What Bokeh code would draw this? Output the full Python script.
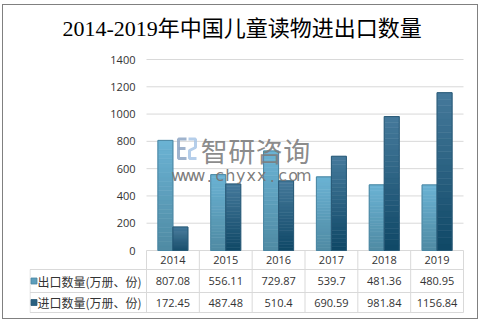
import numpy as np
from bokeh.plotting import figure
from bokeh.layouts import column
from bokeh.models import Range1d, FixedTicker, LinearAxis
from bokeh.core.properties import value
from bokeh.embed import file_html
from bokeh.resources import INLINE

# ---------------- data ----------------
years = ["2014", "2015", "2016", "2017", "2018", "2019"]
export_vals = [807.08, 556.11, 729.87, 539.7, 481.36, 480.95]
import_vals = [172.45, 487.48, 510.4, 690.59, 981.84, 1156.84]
series_names = ["出口数量(万册、份)", "进口数量(万册、份)"]
y_ticks = [0, 200, 400, 600, 800, 1000, 1200, 1400]
title_text = "2014-2019年中国儿童读物进出口数量"
wm_cn = "智研咨询"
wm_url = "www.chyxx.com"

# ---------------- layout (page pixels) ----------------
PX0, PY0 = 3, 5            # content origin inside the border
W, H = 474, 313
FL = 29                    # frame left (page)
CAT_L, CAT_R = 146, 463    # category area
FRAME_R, FRAME_T, FRAME_B = 464, 48, 313
ZERO_Y = 250
ROW_LINES = [269, 292, 312]
ncat = len(years)
upx = ncat / (CAT_R - CAT_L)           # x units per pixel
vpx = 1400 / (ZERO_Y - 59)             # y units per pixel
centers = np.arange(ncat) + 0.5
bar_w = 15 * upx
off = 7.5 * upx

TXT = "#333333"
GRID = "#d9d9d9"
EXP_TOP, EXP_BOT, EXP_EDGE = "#6bb3d4", "#4f8aa3", "#4a86a2"
IMP_TOP, IMP_BOT, IMP_EDGE = "#45799b", "#0f4866", "#2a5b78"


def mix(c1, c2, t):
    a = [int(c1[i:i + 2], 16) for i in (1, 3, 5)]
    b = [int(c2[i:i + 2], 16) for i in (1, 3, 5)]
    return "#%02x%02x%02x" % tuple(round(a[k] + (b[k] - a[k]) * t) for k in range(3))


def grad_bars(p, xs, vals, ctop, cbot, edge, n=24):
    L, R, B, T, C = [], [], [], [], []
    for x, v in zip(xs, vals):
        for k in range(n):
            f0, f1 = k / n, (k + 1) / n
            L.append(x - bar_w / 2); R.append(x + bar_w / 2)
            B.append(v * f0); T.append(v * f1)
            C.append(mix(ctop, cbot, 1 - (f0 + f1) / 2))
    p.quad(left=L, right=R, bottom=B, top=T, fill_color=C, line_color=C, line_width=0.6)
    p.vbar(x=xs, top=vals, width=bar_w, fill_color=None, line_color=edge, line_width=1)


def px_x(px):
    return (px - CAT_L) * upx


def px_y(py):
    return (ZERO_Y - py) * vpx


x_start = px_x(FL)
p = figure(width=W, height=H, output_backend="svg", toolbar_location=None,
           x_range=Range1d(x_start, px_x(FRAME_R)),
           y_range=Range1d(px_y(FRAME_B), px_y(FRAME_T)),
           x_axis_location=None, y_axis_location=None,
           min_border_left=FL - PX0, min_border_right=W - (FRAME_R - PX0),
           min_border_top=FRAME_T - PY0, min_border_bottom=H - (FRAME_B - PY0),
           title=title_text)
p.outline_line_color = None
p.grid.visible = False
p.title.align = "left"
p.title.offset = 62 - FL
p.title.text_font = "Liberation Serif, Noto Sans CJK SC"
p.title.text_font_size = "22px"
p.title.text_font_style = "normal"
p.title.text_color = "#000000"
p.title.standoff = 15

# y axis, drawn at the left of the category area
yaxis = LinearAxis(ticker=FixedTicker(ticks=y_ticks), fixed_location=-11 * upx)
yaxis.axis_line_color = None
yaxis.major_tick_line_color = None
yaxis.minor_tick_line_color = None
yaxis.major_tick_out = 0
yaxis.major_tick_in = 0
yaxis.major_label_standoff = 0
yaxis.major_label_text_font = "Open Sans"
yaxis.major_label_text_font_size = "11px"
yaxis.major_label_text_color = TXT
p.add_layout(yaxis, "left")

# gridlines over the category area
p.segment(x0=[0] * len(y_ticks), x1=[ncat] * len(y_ticks), y0=y_ticks, y1=y_ticks,
          line_color=GRID, line_width=1)

grad_bars(p, centers - off, export_vals, EXP_TOP, EXP_BOT, EXP_EDGE)
grad_bars(p, centers + off, import_vals, IMP_TOP, IMP_BOT, IMP_EDGE)

# watermark (logo + text)
p.multi_line(xs=[[px_x(186), px_x(178), px_x(178), px_x(186)], [px_x(178), px_x(185)]],
             ys=[[px_y(138.5), px_y(138.5), px_y(158), px_y(158)], [px_y(148), px_y(148)]],
             line_color="#8ea6c4", line_width=3, line_alpha=0.85)
p.multi_line(xs=[[px_x(188), px_x(195), px_x(195), px_x(189), px_x(189), px_x(196)]],
             ys=[[px_y(138.5), px_y(138.5), px_y(147), px_y(150), px_y(158), px_y(158)]],
             line_color="#a8c6e6", line_width=3, line_alpha=0.85)
p.text(x=[px_x(200 + 13.75 + 27.5 * i) for i in range(len(wm_cn))],
       y=[px_y(150)] * len(wm_cn), text=list(wm_cn),
       text_font=value("Noto Sans CJK SC"), text_font_size="27px",
       text_color="#7c7c7c", text_alpha=0.9, text_baseline="middle", text_align="center")
p.text(x=[px_x(172 + 5.25 + 10.5 * i) for i in range(len(wm_url))],
       y=[px_y(175)] * len(wm_url), text=list(wm_url),
       text_font=value("DejaVu Sans"), text_font_size="16px",
       text_color="#767676", text_alpha=0.95, text_baseline="middle", text_align="center")

# ---------------- data table ----------------
ry = [px_y(r) for r in ROW_LINES]
x_tab = px_x(FL + 0.5)
p.segment(x0=[x_tab] * 3, x1=[ncat] * 3, y0=ry, y1=ry, line_color=GRID)
vx = list(range(ncat + 1))
p.segment(x0=vx, x1=vx, y0=[0] * len(vx), y1=[ry[-1]] * len(vx), line_color=GRID)
p.segment(x0=[x_tab], x1=[x_tab], y0=[ry[0]], y1=[ry[-1]], line_color=GRID)

row_mid = [(0 + ry[0]) / 2, (ry[0] + ry[1]) / 2, (ry[1] + ry[2]) / 2]
p.text(x=centers, y=[row_mid[0]] * ncat, text=years, text_font=value("Open Sans"),
       text_font_size="11px", text_color=TXT, text_align="center", text_baseline="middle")
p.scatter(x=[x_tab + 4 * upx] * 2, y=row_mid[1:], marker="square", size=6,
          fill_color=[mix(EXP_TOP, EXP_BOT, 0.5), mix(IMP_TOP, IMP_BOT, 0.5)],
          line_color=[EXP_EDGE, IMP_EDGE], line_width=0.8)
p.text(x=[x_tab + 7.5 * upx] * 2, y=row_mid[1:], text=series_names,
       text_font=value("Noto Sans CJK SC"), text_font_size="12px", text_color=TXT,
       text_align="left", text_baseline="middle")
vals_txt = [str(v) for v in export_vals] + [str(v) for v in import_vals]
p.text(x=list(centers) * 2, y=[row_mid[1]] * ncat + [row_mid[2]] * ncat, text=vals_txt,
       text_font=value("Open Sans"), text_font_size="11px", text_color=TXT,
       text_align="center", text_baseline="middle")

layout = column(p, margin=(4, 0, 0, 2), styles={"border": "1px solid #808080"})

open("out.html", "w").write(file_html(layout, INLINE))
